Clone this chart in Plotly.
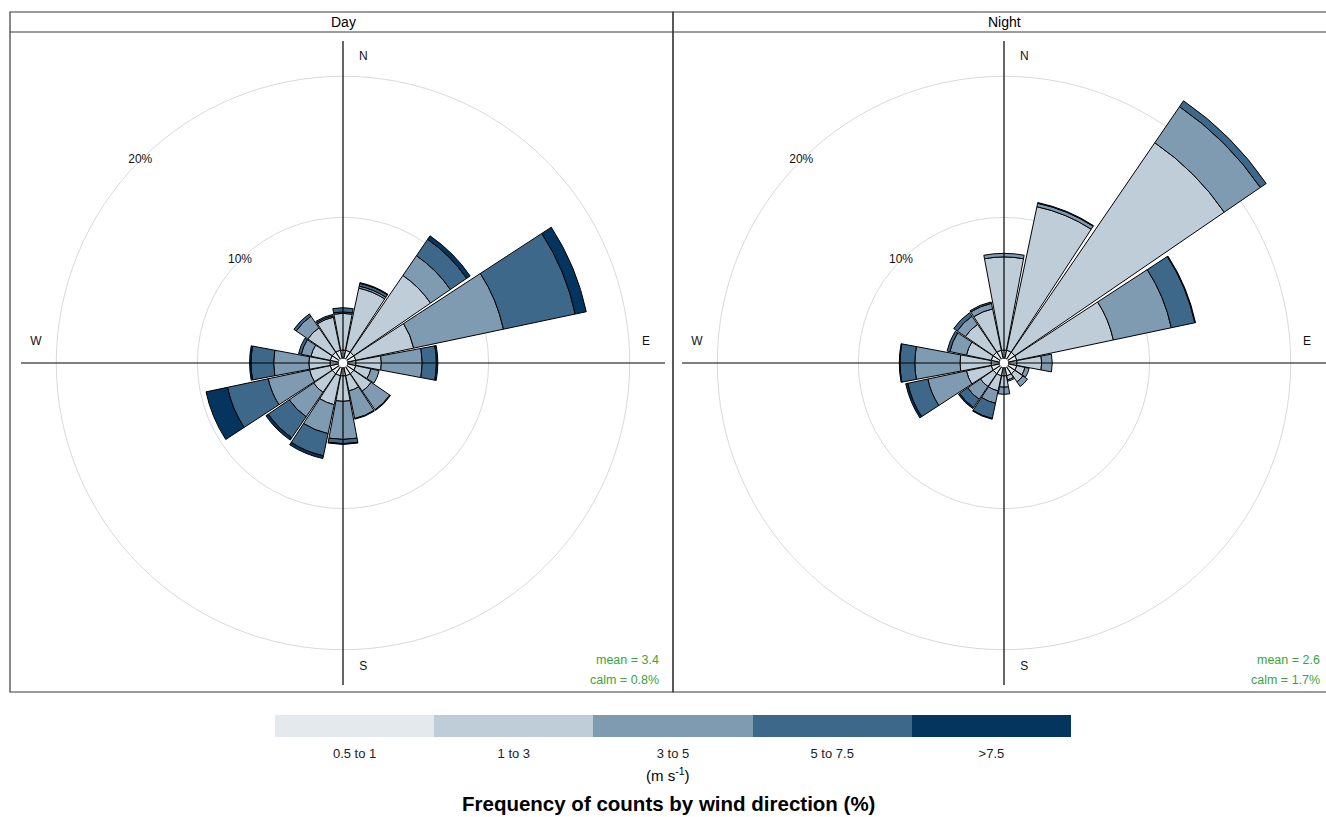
import plotly.graph_objects as go

# ---------------- data ----------------
directions = [0, 22.5, 45, 67.5, 90, 112.5, 135, 157.5, 180, 202.5, 225, 247.5, 270, 292.5, 315, 337.5]
speed_bins = ["0.5 to 1", "1 to 3", "3 to 5", "5 to 7.5", ">7.5"]
bin_colors = ["#e4e9ee", "#bfcdd8", "#7f9bb1", "#3e6889", "#03355f"]
panels = ["Day", "Night"]
mean_speed = [3.4, 2.6]
calm_pct = [0.8, 1.7]
ring_values = [10, 20]
ring_labels = ["10%", "20%"]
compass_labels = ["N", "E", "S", "W"]

# frequency (%) per direction for each speed bin — Day
day_0p5_1 = [0.6, 0.6, 0.6, 0.6, 0.6, 0.6, 0.6, 0.6, 0.6, 0.6, 0.6, 0.6, 0.6, 0.6, 0.6, 0.6]
day_1_3 = [2.6, 4.5, 6.6, 4.2, 1.8, 1.1, 1.5, 1.1, 1.8, 2.1, 1.6, 1.5, 1.5, 1.4, 2.1, 2.4]
day_3_5 = [0.1, 0.15, 1.7, 6.5, 2.9, 0.6, 1.6, 2.0, 2.7, 2.1, 2.1, 3.0, 2.5, 0.7, 1.0, 0.1]
day_5_7p5 = [0.3, 0.2, 1.4, 5.2, 1.0, 0.0, 0.06, 0.05, 0.3, 1.6, 1.8, 2.95, 1.6, 0.2, 0.2, 0.1]
day_gt7p5 = [0.0, 0.05, 0.3, 0.8, 0.1, 0.0, 0.0, 0.0, 0.05, 0.2, 0.2, 1.55, 0.1, 0.0, 0.0, 0.0]

# frequency (%) per direction for each speed bin — Night
night_0p5_1 = [0.6, 0.6, 0.6, 0.6, 0.6, 0.6, 0.6, 0.6, 0.6, 0.6, 0.6, 0.6, 0.6, 0.6, 0.6, 0.6]
night_1_3 = [6.6, 10.4, 18.0, 7.0, 1.75, 0.6, 0.7, 0.3, 0.8, 1.1, 1.1, 1.8, 2.2, 1.8, 2.4, 3.0]
night_3_5 = [0.25, 0.25, 3.1, 4.2, 0.75, 0.3, 0.4, 0.1, 0.5, 0.9, 1.1, 2.8, 3.2, 1.2, 0.7, 0.4]
night_5_7p5 = [0.0, 0.05, 0.5, 1.7, 0.0, 0.0, 0.0, 0.0, 0.0, 1.1, 0.7, 1.45, 1.05, 0.2, 0.3, 0.1]
night_gt7p5 = [0.0, 0.0, 0.0, 0.05, 0.0, 0.0, 0.0, 0.0, 0.0, 0.05, 0.1, 0.15, 0.05, 0.0, 0.0, 0.0]

day_series = [day_0p5_1, day_1_3, day_3_5, day_5_7p5, day_gt7p5]
night_series = [night_0p5_1, night_1_3, night_3_5, night_5_7p5, night_gt7p5]
panel_series = [day_series, night_series]

# ---------------- layout geometry ----------------
W, H = 1326, 817
FONT = "Liberation Sans, Arial, Helvetica, sans-serif"
R_MAX = 22.5
R_PX = 322
centers_px = [(343, 363), (1004, 363)]


def px(x):
    return x / W


def py(y):
    return 1 - y / H


fig = go.Figure()
polar_names = ["polar", "polar2"]

for p, series in enumerate(panel_series):
    sp = polar_names[p]
    for j, vals in enumerate(series):
        fig.add_trace(go.Barpolar(
            r=vals, theta=directions, width=21.2,
            marker=dict(color=bin_colors[j], line=dict(color="black", width=1)),
            name=speed_bins[j], showlegend=False, subplot=sp, hoverinfo="skip"))
    # cross lines
    for th in ([0, 180], [90, 270]):
        fig.add_trace(go.Scatterpolar(
            r=[R_MAX, R_MAX], theta=th, mode="lines",
            line=dict(color="black", width=1.2), showlegend=False,
            subplot=sp, hoverinfo="skip"))
    # ring labels
    fig.add_trace(go.Scatterpolar(
        r=ring_values, theta=[315, 315], mode="text", text=ring_labels,
        textfont=dict(family=FONT, size=12, color="#111111"),
        showlegend=False, subplot=sp, hoverinfo="skip"))
    # compass labels
    fig.add_trace(go.Scatterpolar(
        r=[21.4, 21.2, 21.3, 21.5], theta=[3.8, 86.0, 176.2, 273.9],
        mode="text", text=compass_labels,
        textfont=dict(family=FONT, size=12, color="#111111"),
        showlegend=False, subplot=sp, hoverinfo="skip"))

polar_common = dict(
    bgcolor="white", hole=0.014, barmode="stack",
    angularaxis=dict(rotation=90, direction="clockwise", showgrid=False,
                     showticklabels=False, ticks="", showline=False),
    radialaxis=dict(range=[0, R_MAX], tickvals=ring_values, showticklabels=False,
                    ticks="", showline=False, gridcolor="#dadada", gridwidth=1),
)

layout_polars = {}
for p, (cx, cy) in enumerate(centers_px):
    d = dict(polar_common)
    d["domain"] = dict(x=[px(cx - R_PX), px(cx + R_PX)], y=[py(cy + R_PX), py(cy - R_PX)])
    layout_polars[polar_names[p]] = d

# ---------------- legend colour key ----------------
colorscale = []
for k, c in enumerate(bin_colors):
    colorscale.append([k / len(bin_colors), c])
    colorscale.append([(k + 1) / len(bin_colors), c])

fig.add_trace(go.Heatmap(
    z=[list(range(len(speed_bins)))], x=speed_bins, y=[0],
    colorscale=colorscale, zmin=-0.5, zmax=len(speed_bins) - 0.5,
    showscale=False, xaxis="x", yaxis="y", hoverinfo="skip"))

shapes = []
annotations = []
frame_col = "#3a3a3a"
panel_x = [(10, 673), (673, 1340)]
for p, (x0, x1) in enumerate(panel_x):
    shapes.append(dict(type="rect", xref="paper", yref="paper",
                       x0=px(x0), x1=px(x1), y0=py(692), y1=py(12),
                       line=dict(color=frame_col, width=1.2)))
    shapes.append(dict(type="line", xref="paper", yref="paper",
                       x0=px(x0), x1=px(x1), y0=py(32), y1=py(32),
                       line=dict(color=frame_col, width=1.2)))
    cx, cy = centers_px[p]
    annotations.append(dict(text=panels[p], x=px(cx), y=py(22), xref="paper", yref="paper",
                            showarrow=False, font=dict(family=FONT, size=14, color="black"),
                            xanchor="center", yanchor="middle"))
    right = cx + 318 if p == 0 else 1322
    annotations.append(dict(text=f"mean = {mean_speed[p]}", x=px(right), y=py(660),
                            xref="paper", yref="paper", showarrow=False,
                            font=dict(family=FONT, size=12.5, color="#3aa53a"),
                            xanchor="right", yanchor="middle"))
    annotations.append(dict(text=f"calm = {calm_pct[p]}%", x=px(right), y=py(680),
                            xref="paper", yref="paper", showarrow=False,
                            font=dict(family=FONT, size=12.5, color="#3aa53a"),
                            xanchor="right", yanchor="middle"))

annotations.append(dict(text="(m s<sup>-1</sup>)", x=px(668), y=py(774), xref="paper", yref="paper",
                        showarrow=False, font=dict(family=FONT, size=15, color="black"),
                        xanchor="center", yanchor="middle"))
annotations.append(dict(text="<b>Frequency of counts by wind direction (%)</b>", x=px(668), y=py(803),
                        xref="paper", yref="paper", showarrow=False,
                        font=dict(family=FONT, size=20.5, color="black"),
                        xanchor="center", yanchor="middle"))

fig.update_layout(
    template="none",
    width=W, height=H, margin=dict(l=0, r=0, t=0, b=0),
    paper_bgcolor="white", plot_bgcolor="white",
    font=dict(family=FONT, size=12, color="black"),
    showlegend=False,
    xaxis=dict(domain=[px(275), px(1071)], anchor="y", showgrid=False, zeroline=False,
               showline=False, ticks="", tickfont=dict(family=FONT, size=13, color="#222"),
               ticklabelstandoff=7, fixedrange=True),
    yaxis=dict(domain=[py(737), py(715)], anchor="x", visible=False, fixedrange=True),
    shapes=shapes, annotations=annotations,
    **layout_polars,
)

fig.write_html("out.html", config={"displayModeBar": False},
               post_script="document.body.style.margin='0';document.body.style.overflow='hidden';")
